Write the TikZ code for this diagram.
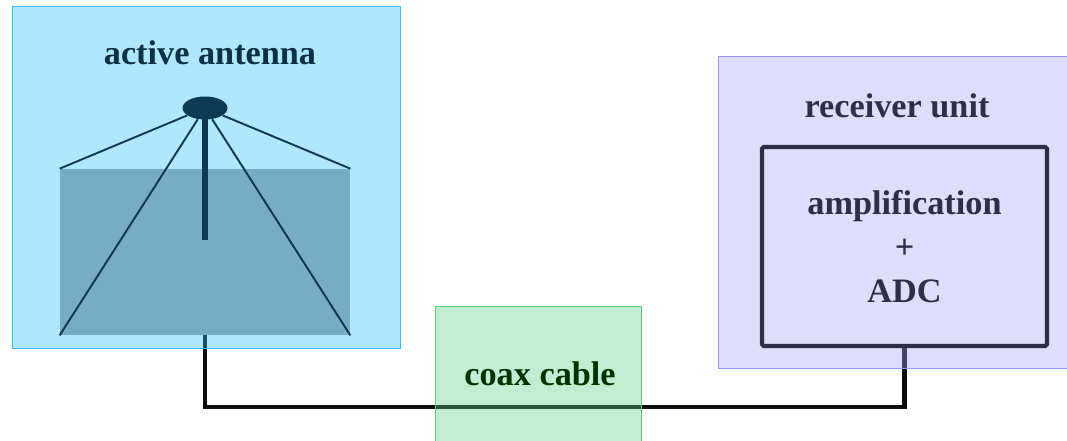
\documentclass[tikz,border=0pt]{standalone}
\usepackage{fontspec}
\setmainfont{Liberation Serif}
\usetikzlibrary{shapes.geometric,backgrounds}

\definecolor{antfill}{RGB}{39,193,247}
\definecolor{antedge}{RGB}{60,190,240}
\definecolor{coaxfill}{RGB}{95,203,135}
\definecolor{coaxedge}{RGB}{90,205,125}
\definecolor{rxfill}{RGB}{166,166,247}
\definecolor{rxedge}{RGB}{150,150,245}
\definecolor{basefill}{RGB}{118,173,194}
\definecolor{antdark}{RGB}{12,58,80}
\definecolor{rxdark}{RGB}{46,46,72}

\tikzset{
  area/.style={draw,line width=0.55pt,
               fill opacity=0.37,
               inner sep=0pt},
  title/.style={font=\fontsize{19.5}{25}\selectfont\bfseries,
                anchor=base}
}

\begin{document}
\begin{tikzpicture}
  \useasboundingbox (0,0) rectangle (21.34,8.8);

  % the three blocks
  \node[area,fill=antfill,draw=antedge,
        minimum width=7.76cm,
        minimum height=6.84cm]
    (antbox) at (4.12,5.26) {};
  \node[area,fill=coaxfill,draw=coaxedge,
        minimum width=4.12cm,
        minimum height=2.72cm]
    (coaxbox) at (10.76,1.32) {};
  \node[area,fill=rxfill,draw=rxedge,
        minimum width=7.06cm,
        minimum height=6.24cm]
    (rxbox) at (17.9,4.56) {};

  \node[title,text=antdark!85!black] (anttitle) at (4.2,7.5) {active antenna};
  \node[title,text=green!20!black] (coaxtitle) at (10.8,1.1) {coax cable};
  \node[title,text=rxdark] (rxtitle) at (17.94,6.44) {receiver unit};

  % antenna
  \node[fill=basefill,inner sep=0pt,
        minimum width=5.8cm,
        minimum height=3.32cm]
    (base) at (4.1,3.76) {};
  \node[ellipse,fill=antdark,inner sep=0pt,
        minimum width=0.9cm,
        minimum height=0.46cm]
    (head) at (4.1,6.64) {};
  \coordinate (mastend) at (4.1,4.0);
  \draw[antdark,line width=3.4pt] (head.center) -- (mastend);
  \draw[antdark,line width=1.1pt]
    (head) -- (base.north west)
    (head) -- (base.south west)
    (head) -- (base.north east)
    (head) -- (base.south east);

  % receiver
  \node[draw=rxdark,line width=2.3pt,
        rounded corners=1pt,
        minimum width=5.7cm,
        minimum height=3.98cm,
        align=center,
        font=\fontsize{19.5}{25}\selectfont\bfseries,
        text=rxdark]
    (adc) at (18.09,3.87)
    {amplification\\+\\ADC};

  % cable under the blocks
  \coordinate (bend) at (4.1,0.66);
  \begin{pgfonlayer}{background}
    \draw[line width=2.8pt,black!95]
      (base.south) -- (bend) -| (adc.south);
  \end{pgfonlayer}
\end{tikzpicture}
\end{document}
